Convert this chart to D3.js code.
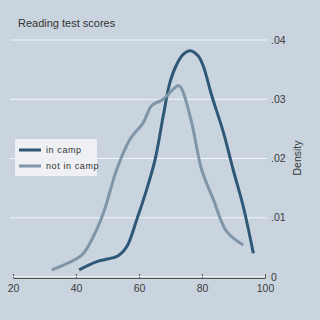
<!DOCTYPE html>
<html><head><meta charset="utf-8">
<script src="https://cdn.jsdelivr.net/npm/d3@7"></script>
<style>body{margin:0;background:#c9d4df}svg{display:block}text{font-family:"Liberation Sans",Arial,sans-serif}</style>
</head><body><svg id="c" width="320" height="320"></svg>
<script>
const title = "Reading test scores";
const xTicks = [20, 40, 60, 80, 100];
const yTicks = [0, 0.01, 0.02, 0.03, 0.04];
const yTickLabels = ["0", ".01", ".02", ".03", ".04"];
const seriesNames = ["in camp", "not in camp"];
const inCampX = [41.0, 46.6, 53.4, 56.1, 59.3, 62.4, 65.1, 67.7, 69.8, 72.0, 74.1, 76.2, 78.8, 80.4, 83.1, 86.8, 89.9, 93.1, 96.3];
const inCampY = [0.0012, 0.0026, 0.0036, 0.0051, 0.0097, 0.0147, 0.0198, 0.0272, 0.0328, 0.0359, 0.0376, 0.0382, 0.0373, 0.0356, 0.0306, 0.0244, 0.0181, 0.0119, 0.0040];
const notCampX = [32.3, 36.0, 41.8, 45.0, 48.7, 52.9, 57.1, 61.4, 64.0, 67.7, 72.5, 73.6, 76.7, 79.9, 83.6, 87.8, 93.1];
const notCampY = [0.0012, 0.0020, 0.0037, 0.0063, 0.0108, 0.0181, 0.0232, 0.0261, 0.0289, 0.0300, 0.0323, 0.0317, 0.0261, 0.0181, 0.0131, 0.0077, 0.0054];
const colors = ["#2f5876", "#8095a8"];

const svg = d3.select("#c");
svg.append("rect").attr("width",320).attr("height",320).attr("fill","#c9d4df");
const x = d3.scaleLinear().domain([20,100]).range([13,265]);
const y = d3.scaleLinear().domain([0,0.04]).range([277,40]);

// grid
svg.append("g").selectAll("line").data(yTicks.slice(1)).join("line")
  .attr("x1",10).attr("x2",267).attr("y1",d=>y(d)).attr("y2",d=>y(d))
  .attr("stroke","#f2f5f8").attr("stroke-width",1.2);

// right axis labels
svg.append("g").selectAll("text").data(yTicks).join("text")
  .attr("x",271).attr("y",d=>y(d)).attr("dy","0.35em")
  .attr("font-size",10.5).attr("fill","#3a3a3a")
  .text((d,i)=>yTickLabels[i]);
svg.append("text").attr("transform","translate(301,158) rotate(-90)")
  .attr("text-anchor","middle").attr("font-size",10.5).attr("fill","#3a3a3a").text("Density");

// x axis
const xa = svg.append("g").attr("transform","translate(0,278)")
  .call(d3.axisBottom(x).tickValues(xTicks).tickSize(0).tickPadding(7));
xa.select(".domain").attr("stroke","#555").attr("stroke-width",1);
xa.selectAll("text").attr("font-size",10.5).attr("fill","#3a3a3a").attr("font-family","Liberation Sans, Arial, sans-serif");
xa.selectAll(".tick").append("line").attr("y1",0).attr("y2",-4).attr("stroke","#555");
svg.append("line").attr("x1",13).attr("x2",265).attr("y1",276.5).attr("y2",276.5).attr("stroke","#f2f5f8").attr("stroke-width",1);

// title
svg.append("text").attr("x",18).attr("y",27).attr("font-size",11).attr("fill","#333").text(title);

// lines
const line = d3.line().x(d=>x(d[0])).y(d=>y(d[1])).curve(d3.curveCatmullRom);
const series = [d3.zip(inCampX,inCampY), d3.zip(notCampX,notCampY)];
svg.append("g").selectAll("path").data(series).join("path")
  .attr("d",line).attr("fill","none").attr("stroke",(d,i)=>colors[i])
  .attr("stroke-width",3).attr("stroke-linejoin","round");

// legend
const lg = svg.append("g");
lg.append("rect").attr("x",15).attr("y",139).attr("width",82).attr("height",37).attr("fill","#eef0f3");
seriesNames.forEach((n,i)=>{
  const yy = 150 + i*16;
  lg.append("line").attr("x1",19).attr("x2",41).attr("y1",yy).attr("y2",yy)
    .attr("stroke",colors[i]).attr("stroke-width",3);
  lg.append("text").attr("x",46).attr("y",yy).attr("dy","0.35em")
    .attr("font-size",9).attr("fill","#333").attr("letter-spacing",0.6).text(n);
});
</script></body></html>
